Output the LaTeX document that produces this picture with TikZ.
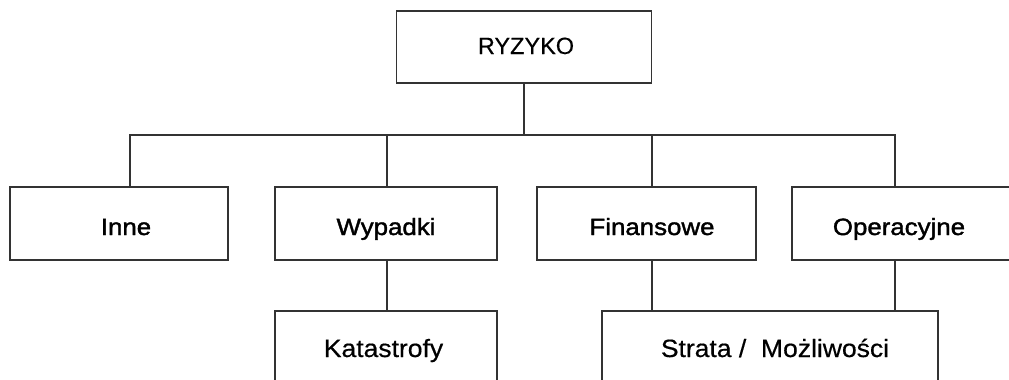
\documentclass[tikz,border=0pt]{standalone}
\usepackage{fontspec}
\setmainfont{Liberation Sans}
\newfontfamily\topfont[FakeBold=0.4]{Liberation Sans}
\newfontfamily\midfont[FakeStretch=1.1,FakeBold=1.6]{Liberation Sans}
\newfontfamily\lowfont[FakeStretch=1.06,FakeBold=0.5]{Liberation Sans}
\begin{document}
\begin{tikzpicture}[x=1pt,y=-1pt,
  box/.style={draw=black!80, line width=1.8pt, fill=white, inner sep=0pt},
  topbox/.style={box, text height=17pt, text depth=3pt, font=\topfont\fontsize{23.5}{28}\selectfont},
  midbox/.style={box, minimum height=73pt, text height=23pt, text depth=0pt,
    font=\midfont\fontsize{23.5}{28}\selectfont},
  lowbox/.style={box, minimum height=78pt, text height=20pt, text depth=6pt,
    font=\lowfont\fontsize{25}{30}\selectfont},
  link/.style={draw=black!80, line width=1.6pt}]
\useasboundingbox (0,0) rectangle (1009,380);
\fill[white] (0,0) rectangle (1009,380);
\clip (0,0) rectangle (1009,380);

% top level
\node[topbox, minimum width=255pt, minimum height=72pt] (ryzyko) at (524,47) {\hspace*{4pt}RYZYKO};

% second level
\node[midbox, minimum width=218pt] (inne) at (119,223.5) {\hspace*{14pt}Inne};
\node[midbox, minimum width=222pt] (wypadki) at (386,223.5) {Wypadki};
\node[midbox, minimum width=219pt] (finanse) at (646.5,223.5) {\hspace*{11pt}Finansowe};
\node[midbox, minimum width=230pt] (operacje) at (907,223.5) {Operacyjne\hspace*{16pt}};

% third level
\node[lowbox, minimum width=222pt] (katastrofy) at (386,350) {Katastrofy\hspace*{5pt}};
\node[lowbox, minimum width=336pt] (strata) at (770,350) {\hspace*{10pt}Strata /\ \ Możliwości};

% horizontal bus
\coordinate (bus) at (0,135);
\draw[link] (ryzyko.south) -- (ryzyko.south |- bus);
\draw[link] ([xshift=11pt]inne.north) -- ([xshift=11pt]inne.north |- bus)
  -- ([xshift=-12pt]operacje.north |- bus) -- ([xshift=-12pt]operacje.north);
\draw[link] ([xshift=1pt]wypadki.north) -- ([xshift=1pt]wypadki.north |- bus);
\draw[link] ([xshift=5.5pt]finanse.north) -- ([xshift=5.5pt]finanse.north |- bus);

% links to third level
\draw[link] ([xshift=1pt]wypadki.south) -- ([xshift=1pt]wypadki.south |- katastrofy.north);
\draw[link] ([xshift=5.5pt]finanse.south) -- ([xshift=5.5pt]finanse.south |- strata.north);
\draw[link] ([xshift=-12pt]operacje.south) -- ([xshift=-12pt]operacje.south |- strata.north);
\end{tikzpicture}
\end{document}
